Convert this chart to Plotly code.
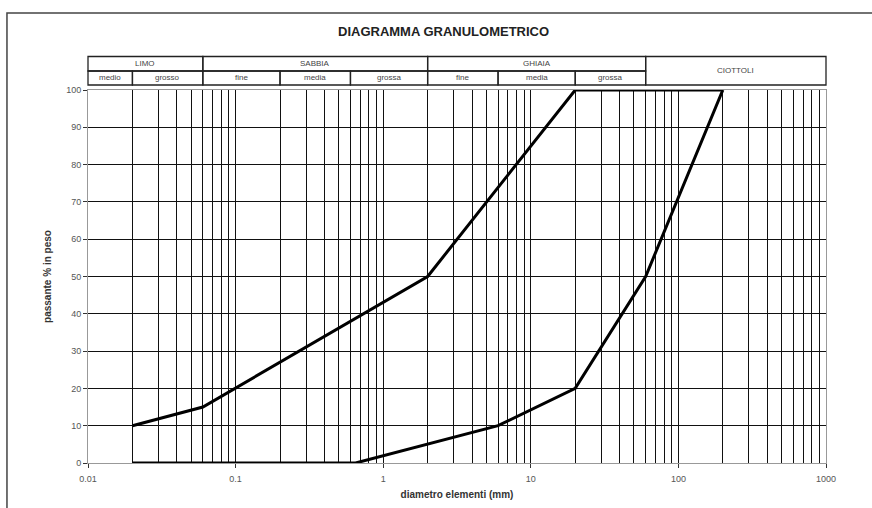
import math
import plotly.graph_objects as go

# ---- data ----
fine_curve_x = [0.02, 0.06, 2, 20, 200]
fine_curve_y = [10, 15, 50, 100, 100]
coarse_curve_x = [0.02, 0.65, 6, 20, 60, 200]
coarse_curve_y = [0, 0, 10, 20, 50, 100]

x_tick_vals = [0.01, 0.1, 1, 10, 100, 1000]
x_tick_text = ["0.01", "0.1", "1", "10", "100", "1000"]
y_tick_vals = [0, 10, 20, 30, 40, 50, 60, 70, 80, 90, 100]

# header classes (grain size limits, mm)
main_classes = ["LIMO", "SABBIA", "GHIAIA"]
main_limits = [0.01, 0.06, 2, 60]
sub_classes = ["medio", "grosso", "fine", "media", "grossa", "fine", "media", "grossa"]
sub_limits = [0.01, 0.02, 0.06, 0.2, 0.6, 2, 6, 20, 60]
ciottoli_label = "CIOTTOLI"
ciottoli_limits = [60, 1000]

minor_vals = [m * 10 ** k for k in range(-2, 3) for m in range(2, 10)]

XMIN, XMAX = 0.01, 1000


def xp(v):
    return (math.log10(v) - math.log10(XMIN)) / (math.log10(XMAX) - math.log10(XMIN))


FONT = "Liberation Sans, Arial, sans-serif"

fig = go.Figure()
fig.add_trace(go.Scatter(x=fine_curve_x, y=fine_curve_y, mode="lines",
                         line=dict(color="black", width=3), cliponaxis=False,
                         showlegend=False, hoverinfo="skip"))
fig.add_trace(go.Scatter(x=coarse_curve_x, y=coarse_curve_y, mode="lines",
                         line=dict(color="black", width=3), cliponaxis=False,
                         showlegend=False, hoverinfo="skip"))

shapes = []
annotations = []

# header geometry (paper y)
y_top, y_mid, y_bot = 1.0898, 1.051, 1.0134
hline = dict(color="#222", width=1.3)
hfont = dict(family=FONT, size=8, color="#444")


def label(x, y, text, font):
    return dict(xref="paper", yref="paper", x=x, y=y, text=text, showarrow=False,
                xanchor="center", yanchor="middle", font=font)


# main class row
for i, name in enumerate(main_classes):
    a, b = main_limits[i], main_limits[i + 1]
    shapes.append(dict(type="rect", xref="paper", yref="paper", x0=xp(a), x1=xp(b),
                       y0=y_mid, y1=y_top, line=hline, layer="above"))
    annotations.append(label((xp(a) + xp(b)) / 2, (y_mid + y_top) / 2, name, hfont))
# sub class row
for i, name in enumerate(sub_classes):
    a, b = sub_limits[i], sub_limits[i + 1]
    shapes.append(dict(type="rect", xref="paper", yref="paper", x0=xp(a), x1=xp(b),
                       y0=y_bot, y1=y_mid, line=hline, layer="above"))
    annotations.append(label((xp(a) + xp(b)) / 2, (y_bot + y_mid) / 2, name, hfont))
# ciottoli
a, b = ciottoli_limits
shapes.append(dict(type="rect", xref="paper", yref="paper", x0=xp(a), x1=xp(b),
                   y0=y_bot, y1=y_top, line=hline, layer="above"))
annotations.append(label((xp(a) + xp(b)) / 2, (y_bot + y_top) / 2, ciottoli_label, hfont))

# outer frame (partially off-screen)
shapes.append(dict(type="rect", xref="paper", yref="paper", x0=-0.1098, x1=1.3,
                   y0=-0.3, y1=1.2064, line=dict(color="#444", width=1.5)))

# title
annotations.append(label(0.482, 1.158, "<b>DIAGRAMMA GRANULOMETRICO</b>",
                         dict(family=FONT, size=13, color="#222")))

fig.update_layout(
    width=872, height=508,
    margin=dict(l=88, r=46, t=90, b=45, autoexpand=False),
    paper_bgcolor="white", plot_bgcolor="white",
    shapes=shapes, annotations=annotations,
    xaxis=dict(
        type="log", range=[math.log10(XMIN), math.log10(XMAX)],
        tickvals=x_tick_vals, ticktext=x_tick_text,
        ticks="outside", ticklen=4, tickcolor="#333", ticklabelstandoff=3,
        showgrid=True, gridcolor="#111", gridwidth=1,
        minor=dict(tickvals=minor_vals, showgrid=True, gridcolor="#111", gridwidth=1, ticks=""),
        showline=True, mirror=True, linecolor="#999", linewidth=1,
        zeroline=False, automargin=False,
        tickfont=dict(family=FONT, size=9, color="#555"),
        title=dict(text="<b>diametro elementi (mm)</b>", standoff=8,
                   font=dict(family=FONT, size=10, color="#333")),
    ),
    yaxis=dict(
        range=[0, 100], tickvals=y_tick_vals,
        ticks="outside", ticklen=4, tickcolor="#333",
        showgrid=True, gridcolor="#111", gridwidth=1,
        showline=True, mirror=True, linecolor="#999", linewidth=1,
        zeroline=False, automargin=False,
        tickfont=dict(family=FONT, size=9, color="#555"),
        title=dict(text="<b>passante % in peso</b>", standoff=12,
                   font=dict(family=FONT, size=10, color="#333")),
    ),
)

fig.write_html("out.html",
               config={"displayModeBar": False},
               post_script="document.body.style.margin='0';document.body.style.overflow='hidden';")
